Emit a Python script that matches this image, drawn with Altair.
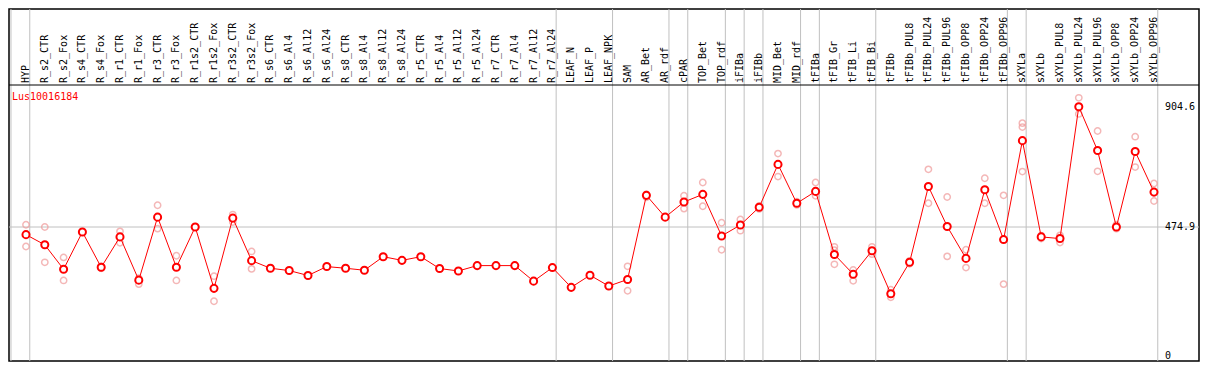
import altair as alt
import pandas as pd

categories = ["HYP", "R_s2_CTR", "R_s2_Fox", "R_s4_CTR", "R_s4_Fox", "R_r1_CTR", "R_r1_Fox",
              "R_r3_CTR", "R_r3_Fox", "R_r1s2_CTR", "R_r1s2_Fox", "R_r3s2_CTR", "R_r3s2_Fox",
              "R_s6_CTR", "R_s6_Al4", "R_s6_Al12", "R_s6_Al24", "R_s8_CTR", "R_s8_Al4",
              "R_s8_Al12", "R_s8_Al24", "R_r5_CTR", "R_r5_Al4", "R_r5_Al12", "R_r5_Al24",
              "R_r7_CTR", "R_r7_Al4", "R_r7_Al12", "R_r7_Al24", "LEAF_N", "LEAF_P", "LEAF_NPK",
              "SAM", "AR_Bet", "AR_rdf", "cPAR", "TOP_Bet", "TOP_rdf", "iFIBa", "iFIBb",
              "MID_Bet", "MID_rdf", "tFIBa", "tFIB_Gr", "tFIB_Li", "tFIB_Bi", "tFIBb",
              "tFIBb_PUL8", "tFIBb_PUL24", "tFIBb_PUL96", "tFIBb_OPP8", "tFIBb_OPP24",
              "tFIBb_OPP96", "sXYLa", "sXYLb", "sXYLb_PUL8", "sXYLb_PUL24", "sXYLb_PUL96",
              "sXYLb_OPP8", "sXYLb_OPP24", "sXYLb_OPP96"]

means = [447.7, 411.3, 324.0, 457.2, 331.1, 439.6, 285.2, 510.2, 331.1, 474.9, 255.8,
         506.7, 354.8, 327.6, 319.4, 301.8, 333.6, 327.6, 320.5, 368.9, 355.8, 368.9,
         326.5, 318.0, 337.1, 337.1, 337.1, 281.6, 330.0, 259.4, 302.8, 264.0, 287.6,
         588.0, 510.2, 564.3, 591.5, 443.1, 482.0, 545.6, 698.6, 559.7, 602.1, 377.0,
         306.4, 390.1, 236.7, 348.8, 619.8, 477.0, 362.9, 607.8, 430.0, 783.4, 439.6,
         433.6, 904.6, 748.1, 474.9, 744.5, 599.6]

replicates = [[483.0, 405.3], [474.9, 348.8], [366.4, 284.1], [], [334.6, 327.6],
              [459.4, 418.4], [292.2, 271.0], [552.7, 469.0], [372.4, 284.1], [],
              [299.3, 209.9], [519.4, 492.6], [387.6, 325.4],
              [], [], [], [], [], [], [], [], [], [], [], [], [], [], [], [], [], [], [],
              [334.6, 247.3], [591.5, 580.9], [], [586.6, 540.6], [633.9, 549.1],
              [490.1, 393.6], [501.8, 461.8], [550.2, 539.6], [737.1, 655.1],
              [565.4, 553.7], [633.9, 586.6], [404.2, 392.2, 341.7], [321.6, 282.7],
              [404.2, 378.1], [250.9, 224.0], [354.0, 343.5], [680.9, 559.7],
              [582.0, 370.0], [393.6, 330.0], [649.1, 559.7], [588.0, 271.0],
              [845.9, 831.8, 672.8], [444.2, 433.6], [445.2, 419.4], [936.4, 878.8],
              [817.7, 673.9], [483.0, 469.0], [797.5, 689.0], [630.4, 567.8]]

# index of the category after which a group separator is drawn
group_ends = [-1, 0, 28, 31, 34, 35, 37, 38, 39, 41, 42, 45, 52, 53, 60]

y_ticks = [904.6, 474.9, 0]
y_tick_labels = ["904.6", "474.9", "0"]
gene_name = "Lus10016184"

W, H = 1190, 352
FONT = "DejaVu Sans Mono"

mean_df = pd.DataFrame({"idx": list(range(len(categories))), "cat": categories, "v": means})
rep_df = pd.DataFrame([{"idx": i, "v": v} for i, reps in enumerate(replicates) for v in reps])
grp_df = pd.DataFrame({"end": group_ends})
tick_df = pd.DataFrame({"v": y_ticks, "label": y_tick_labels})

xs = alt.Scale(domain=[-0.904, 62.394], nice=False, zero=False)
ys = alt.Scale(domain=[-3.6, 1253.5], nice=False, zero=False)

grid_v = alt.Chart(grp_df).transform_calculate(pos="datum.end + 0.2").mark_rule(
    color="#c0c0c0", strokeWidth=1).encode(
    x=alt.X("pos:Q", scale=xs, axis=None), y=alt.value(0), y2=alt.value(H))

grid_h = alt.Chart(tick_df).transform_filter("datum.label == '474.9'").mark_rule(
    color="#c0c0c0", strokeWidth=1).encode(
    y=alt.Y("v:Q", scale=ys, axis=None), x=alt.value(0), x2=alt.value(W))

header_line = alt.Chart(tick_df).transform_filter("datum.label == '0'").mark_rule(
    color="black", strokeWidth=1).encode(
    y=alt.value(76), x=alt.value(0), x2=alt.value(W))

reps = alt.Chart(rep_df).mark_point(shape="circle", filled=False, color="#f09a9a",
                                    strokeWidth=1.5, size=40).encode(
    x=alt.X("idx:Q", scale=xs, axis=None), y=alt.Y("v:Q", scale=ys, axis=None))

line = alt.Chart(mean_df).mark_line(color="#ff0000", strokeWidth=1).encode(
    x=alt.X("idx:Q", scale=xs, axis=None), y=alt.Y("v:Q", scale=ys, axis=None))

pts = alt.Chart(mean_df).mark_point(shape="circle", filled=False, color="#ff0000",
                                    fill="white", fillOpacity=1, strokeWidth=2, size=50).encode(
    x=alt.X("idx:Q", scale=xs, axis=None), y=alt.Y("v:Q", scale=ys, axis=None))

labels = alt.Chart(mean_df).mark_text(angle=270, align="left", baseline="middle",
                                      font=FONT, fontSize=10, color="black").encode(
    x=alt.X("idx:Q", scale=xs, axis=None), y=alt.value(74), text="cat:N")

ylabels_top = alt.Chart(tick_df).transform_filter("datum.v != 0").mark_text(
    align="left", baseline="middle", font=FONT, fontSize=10, color="black").encode(
    y=alt.Y("v:Q", scale=ys, axis=None), x=alt.value(1156), text="label:N")

ylabels_zero = alt.Chart(tick_df).transform_filter("datum.v == 0").mark_text(
    align="left", baseline="middle", font=FONT, fontSize=10, color="black", dy=-4).encode(
    y=alt.Y("v:Q", scale=ys, axis=None), x=alt.value(1156), text="label:N")

title = alt.Chart(tick_df).transform_filter("datum.label == '0'").mark_text(
    align="left", baseline="middle", font=FONT, fontSize=10, color="#ff0000",
    text=gene_name).encode(x=alt.value(3), y=alt.value(88))

chart = alt.layer(grid_v, grid_h, header_line, reps, line, pts, labels,
                  ylabels_top, ylabels_zero, title).properties(
    width=W, height=H, autosize=alt.AutoSizeParams(type="none"),
    padding={"left": 1, "top": 1, "right": 1, "bottom": 1},
    background="white",
).configure_view(stroke="black", strokeWidth=1.5)

chart.save("out.html", embed_options={"renderer": "svg", "actions": False})
